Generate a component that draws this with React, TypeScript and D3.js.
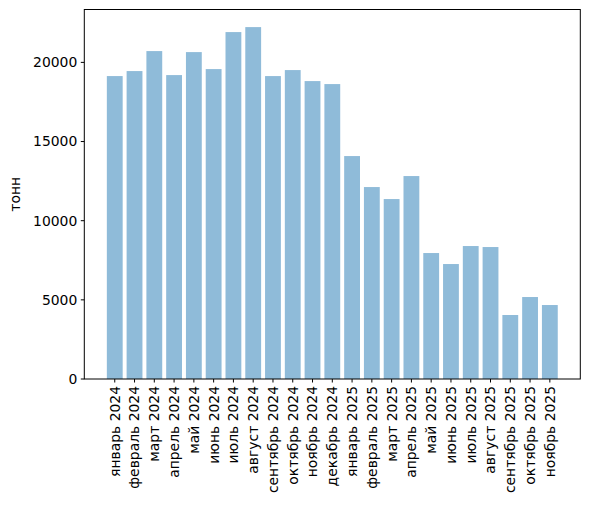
import { useEffect, useRef } from "react";
import * as d3 from "d3";

const months = [
  "январь 2024", "февраль 2024", "март 2024", "апрель 2024", "май 2024",
  "июнь 2024", "июль 2024", "август 2024", "сентябрь 2024", "октябрь 2024",
  "ноябрь 2024", "декабрь 2024", "январь 2025", "февраль 2025", "март 2025",
  "апрель 2025", "май 2025", "июнь 2025", "июль 2025", "август 2025",
  "сентябрь 2025", "октябрь 2025", "ноябрь 2025",
];

const tonnes = [
  19135, 19451, 20714, 19198, 20650, 19577, 21914, 22229, 19135, 19514,
  18819, 18630, 14083, 12125, 11367, 12820, 7957, 7262, 8399, 8336,
  4042, 5178, 4673,
];

const yTicks = [0, 5000, 10000, 15000, 20000];

const W = 589;
const H = 506;
const M = { left: 84.3, right: 580.3, top: 9.5, bottom: 379 };
const FONT = "'DejaVu Sans', sans-serif";

const App = () => {
  const ref = useRef<SVGSVGElement | null>(null);

  useEffect(() => {
    if (!ref.current) return;
    const svg = d3.select(ref.current);
    svg.selectAll("*").remove();

    const x = d3
      .scaleBand<string>()
      .domain(months)
      .range([M.left, M.right])
      .paddingInner(0.2)
      .paddingOuter(1.14);

    const y = d3
      .scaleLinear()
      .domain([0, d3.max(tonnes)! * 1.05])
      .range([M.bottom, M.top]);

    svg
      .append("g")
      .selectAll("rect")
      .data(tonnes)
      .join("rect")
      .attr("x", (_, i) => x(months[i])!)
      .attr("width", x.bandwidth())
      .attr("y", (d) => y(d))
      .attr("height", (d) => y(0) - y(d))
      .attr("fill", "#1f77b4")
      .attr("fill-opacity", 0.5);

    // y axis
    const ya = svg.append("g").attr("font-family", FONT).attr("font-size", 13.9);
    yTicks.forEach((t) => {
      ya.append("line")
        .attr("x1", M.left - 3.5)
        .attr("x2", M.left)
        .attr("y1", y(t))
        .attr("y2", y(t))
        .attr("stroke", "#000")
        .attr("stroke-width", 1);
      ya.append("text")
        .attr("x", M.left - 7)
        .attr("y", y(t))
        .attr("dy", "0.35em")
        .attr("text-anchor", "end")
        .attr("fill", "#000")
        .text(String(t));
    });

    // x axis
    const xa = svg.append("g").attr("font-family", FONT).attr("font-size", 13.9);
    months.forEach((m) => {
      const cx = x(m)! + x.bandwidth() / 2;
      xa.append("line")
        .attr("x1", cx)
        .attr("x2", cx)
        .attr("y1", M.bottom)
        .attr("y2", M.bottom + 3.5)
        .attr("stroke", "#000")
        .attr("stroke-width", 1);
      xa.append("text")
        .attr("transform", `translate(${cx},${M.bottom + 7}) rotate(-90)`)
        .attr("dy", "0.35em")
        .attr("text-anchor", "end")
        .attr("fill", "#000")
        .text(m);
    });

    // frame
    svg
      .append("rect")
      .attr("x", M.left)
      .attr("y", M.top)
      .attr("width", M.right - M.left)
      .attr("height", M.bottom - M.top)
      .attr("fill", "none")
      .attr("stroke", "#000")
      .attr("stroke-width", 1);

    svg
      .append("text")
      .attr("transform", `translate(20,${(M.top + M.bottom) / 2}) rotate(-90)`)
      .attr("text-anchor", "middle")
      .attr("font-family", FONT)
      .attr("font-size", 13.9)
      .attr("fill", "#000")
      .text("тонн");
  }, []);

  return (
    <svg
      ref={ref}
      width={W}
      height={H}
      style={{ position: "absolute", left: 0, top: 0, background: "#fff" }}
    ></svg>
  );
};

export default App;
